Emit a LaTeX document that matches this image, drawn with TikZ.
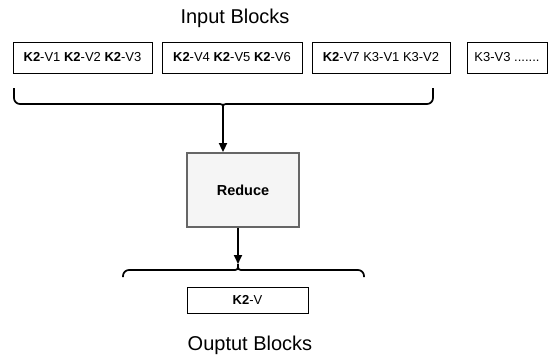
\documentclass[tikz,border=0pt]{standalone}
\usepackage{fontspec}
\setmainfont{Liberation Sans}
\usetikzlibrary{arrows.meta}
\begin{document}
\begin{tikzpicture}[x=1pt,y=-1pt,
  blk/.style={draw=black,line width=0.8pt,fill=white,inner sep=0pt,font=\fontsize{13}{15}\selectfont},
  red/.style={draw=black!60,line width=1.8pt,fill=black!4,inner sep=0pt,font=\bfseries\fontsize{14.5}{17}\selectfont},
  brace/.style={line width=1.7pt},
  arr/.style={line width=1.7pt,-{Triangle[length=9pt,width=8pt]}},
  title/.style={font=\fontsize{20}{24}\selectfont}]
\useasboundingbox (0,0) rectangle (550,364);
\node[title] (tin) at (235,18) {Input Blocks};
\node[blk,minimum width=139pt,minimum height=31pt] (b1) at (82.5,57.5) {\textbf{K2}-V1 \textbf{K2}-V2 \textbf{K2}-V3};
\node[blk,minimum width=140pt,minimum height=31pt] (b2) at (232,57.5) {\textbf{K2}-V4 \textbf{K2}-V5 \textbf{K2}-V6};
\node[blk,minimum width=138pt,minimum height=31pt] (b3) at (381,57.5) {\textbf{K2}-V7 K3-V1 K3-V2};
\node[blk,minimum width=80pt,minimum height=31pt] (b4) at (507,57.5) {K3-V3 .......};
% top brace
\coordinate (tl) at (14,88);
\coordinate (tr) at (433,88);
\coordinate (tm) at (223,109);
\draw[brace,rounded corners=6pt] (tl) -- (14,104) -- (217,104);
\draw[brace] (217,104) .. controls (223,104) .. (tm);
\draw[brace,rounded corners=6pt] (tr) -- (433,104) -- (229,104);
\draw[brace] (229,104) .. controls (223,104) .. (tm);
\node[red,minimum width=112pt,minimum height=74pt] (r) at (243,190) {Reduce};
\draw[arr] (tm) -- (r.north -| tm);
% bottom brace
\coordinate (bl) at (123,277);
\coordinate (br) at (364,277);
\coordinate (bm) at (238,264);
\draw[brace,rounded corners=6pt] (bl) -- (123,270) -- (232,270);
\draw[brace] (232,270) .. controls (238,270) .. (bm);
\draw[brace,rounded corners=6pt] (br) -- (364,270) -- (244,270);
\draw[brace] (244,270) .. controls (238,270) .. (bm);
\draw[arr] (r.south -| bm) -- (bm);
\node[blk,minimum width=121pt,minimum height=26pt] (o) at (247.5,300) {\textbf{K2}-V};
\node[title] (tout) at (250,345) {Ouptut Blocks};
\end{tikzpicture}
\end{document}
